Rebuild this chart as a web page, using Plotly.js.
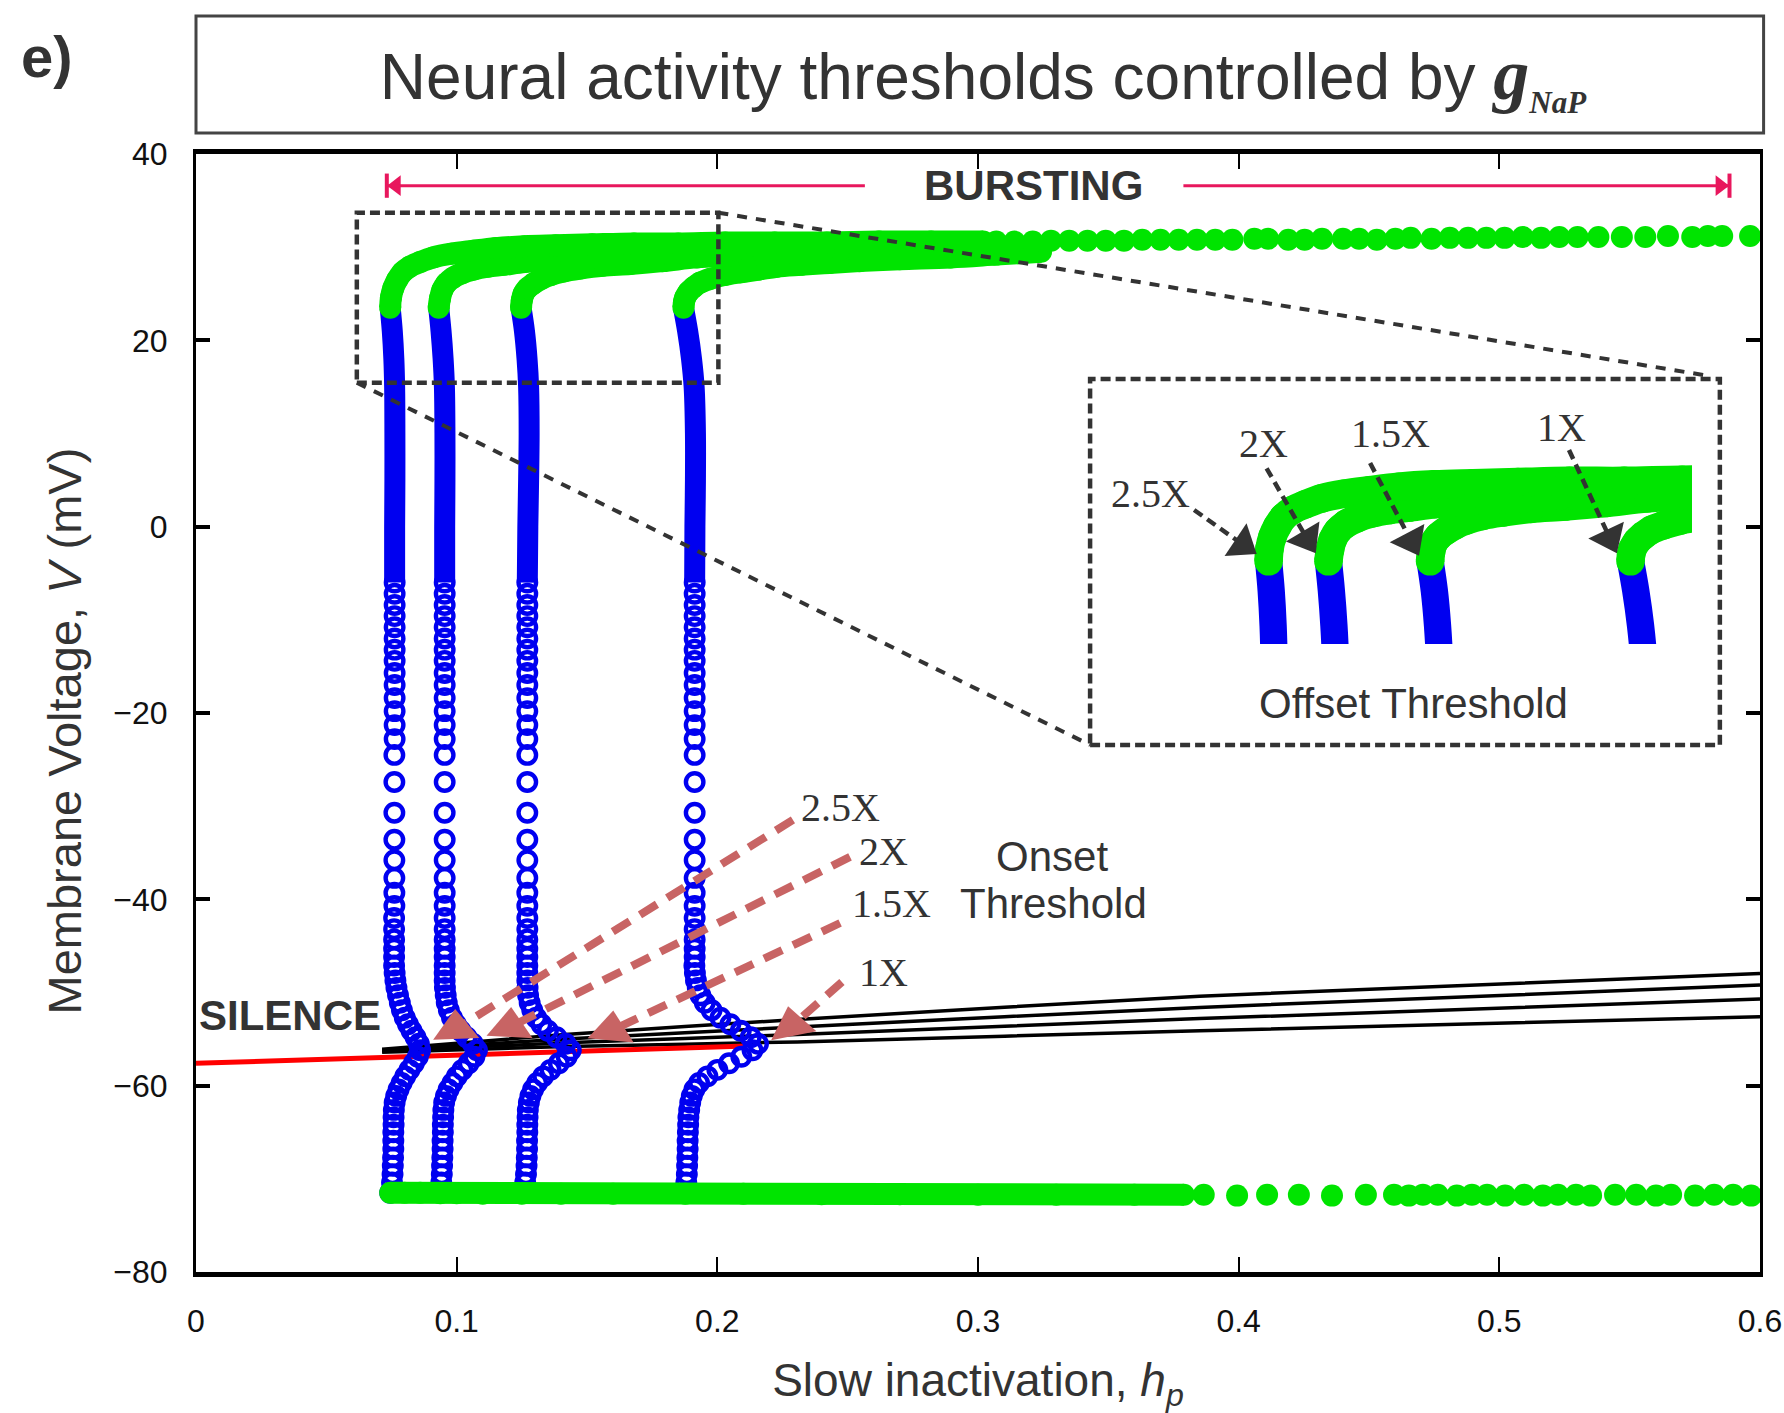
<!DOCTYPE html>
<html>
<head>
<meta charset="utf-8">
<script src="https://cdn.plot.ly/plotly-3.0.1.min.js"></script>
<style>html,body{margin:0;padding:0;background:#fff;}#chart{width:1784px;height:1413px;}</style>
</head>
<body>
<div id="chart"></div>
<script>
// ---------------- DATA ----------------
// Blue trajectory: dense upper segment (drawn as a solid band)
const bandV      = [23.5, 21, 18, 15, 10, 5, 0, -6];
const bandX_2p5  = [0.0745, 0.0753, 0.0759, 0.0762, 0.0763, 0.0763, 0.0762, 0.0762];
const bandX_2    = [0.0931, 0.0940, 0.0948, 0.0953, 0.0955, 0.0955, 0.0954, 0.0954];
const bandX_1p5  = [0.1247, 0.1260, 0.1270, 0.1276, 0.1278, 0.1276, 0.1273, 0.1271];
const bandX_1    = [0.1870, 0.1886, 0.1901, 0.1911, 0.1916, 0.1916, 0.1914, 0.1913];

// Blue trajectory: open-circle samples below the dense band
const ringV = [-6, -7.2, -8.4, -9.6, -10.8, -12, -13.2, -14.4, -15.7, -17, -18.4, -19.8, -21.3, -22.8, -24.5,
  -27.4, -30.7, -33.6, -35.8, -37.7, -39.3, -40.7, -42, -43.2, -44.3, -45.3, -46.2, -47.1, -47.9, -48.7,
  -49.5, -50.3, -51.1, -51.9, -52.7, -53.4, -54.1, -54.8, -55.5, -56.2, -56.9, -57.6, -58.3, -59, -59.7,
  -60.4, -61.1, -61.8, -62.6, -63.4, -64.2, -65, -65.9, -66.8, -67.7, -68.6, -69.5, -70.4, -71.5];
const ringX_2p5 = [0.0762, 0.0762, 0.0762, 0.0762, 0.0762, 0.0762, 0.0762, 0.0762, 0.0762, 0.0762, 0.0762, 0.0762, 0.0762, 0.0762,
  0.0761, 0.0761, 0.0761, 0.0761, 0.0761, 0.0761, 0.0761, 0.0761,
  0.0760, 0.0760, 0.0760, 0.0760, 0.0760, 0.0760,
  0.0762, 0.0765, 0.0769, 0.0775, 0.0782, 0.0790, 0.0801, 0.0813, 0.0827, 0.0842, 0.0855, 0.0860, 0.0851, 0.0836, 0.0819,
  0.0803, 0.0789, 0.0777, 0.0768, 0.0762, 0.0759, 0.0758, 0.0758, 0.0757, 0.0757, 0.0757, 0.0756, 0.0755, 0.0754, 0.0752, 0.0745];
const ringX_2 = [0.0954, 0.0954, 0.0954, 0.0954, 0.0954, 0.0954, 0.0954, 0.0954, 0.0954, 0.0954,
  0.0954, 0.0954, 0.0954, 0.0954, 0.0954, 0.0954, 0.0954, 0.0954, 0.0954, 0.0954,
  0.0954, 0.0954, 0.0954, 0.0954, 0.0954, 0.0954, 0.0954, 0.0954, 0.0954, 0.0954,
  0.0955, 0.0958, 0.0962, 0.0970, 0.0982, 0.0997, 0.1015, 0.1038, 0.1062, 0.1078, 0.1068, 0.1046, 0.1022, 0.1001, 0.0984,
  0.0969, 0.0959, 0.0952, 0.0949, 0.0948, 0.0947, 0.0947, 0.0946, 0.0946, 0.0945, 0.0944, 0.0943, 0.0941, 0.0937];
const ringX_1p5 = [0.1271, 0.1271, 0.1271, 0.1271, 0.1271, 0.1271, 0.1271, 0.1271, 0.1271, 0.1271,
  0.1271, 0.1271, 0.1271, 0.1271, 0.1271, 0.1271, 0.1271, 0.1271, 0.1271, 0.1271,
  0.1271, 0.1271, 0.1271, 0.1271, 0.1271, 0.1271, 0.1271, 0.1271, 0.1271, 0.1271,
  0.1272, 0.1274, 0.1280, 0.1290, 0.1305, 0.1325, 0.1350, 0.1383, 0.1418, 0.1438, 0.1422, 0.1392, 0.1360, 0.1332, 0.1309,
  0.1293, 0.1283, 0.1277, 0.1273, 0.1272, 0.1271, 0.1271, 0.1270, 0.1270, 0.1269, 0.1268, 0.1266, 0.1263, 0.1250];
const ringX_1 = [0.1913, 0.1913, 0.1913, 0.1913, 0.1913, 0.1913, 0.1913, 0.1913, 0.1913, 0.1913,
  0.1913, 0.1913, 0.1913, 0.1913, 0.1913, 0.1913, 0.1913, 0.1913, 0.1913, 0.1913,
  0.1913, 0.1913, 0.1913, 0.1913, 0.1913, 0.1913, 0.1913,
  0.1912, 0.1914, 0.1918, 0.1925, 0.1935, 0.1952, 0.1978, 0.2012, 0.2050, 0.2090, 0.2128, 0.2156, 0.2135, 0.2092, 0.2045, 0.2000,
  0.1962, 0.1930, 0.1912, 0.1902, 0.1896, 0.1892, 0.1889, 0.1888, 0.1887, 0.1886, 0.1886, 0.1885, 0.1884, 0.1883, 0.1881, 0.1877];

// Green (bursting) upper branches
const topX_2p5 = [0.0745, 0.0748, 0.0757, 0.0772, 0.0792, 0.0820, 0.0860, 0.0910, 0.0980, 0.1060, 0.1150, 0.1260, 0.1380, 0.1520, 0.1680, 0.1850, 0.2030, 0.2220, 0.2420, 0.2620, 0.2820, 0.3020];
const topV_2p5 = [23.5, 24.6, 25.6, 26.5, 27.3, 27.9, 28.4, 28.9, 29.3, 29.6, 29.9, 30.1, 30.2, 30.3, 30.4, 30.4, 30.5, 30.5, 30.5, 30.6, 30.6, 30.6];
const topX_2 = [0.0931, 0.0936, 0.0945, 0.0960, 0.0985, 0.1020, 0.1065, 0.1120, 0.1180, 0.1260, 0.1346, 0.1440, 0.1538, 0.1650, 0.1780, 0.1920, 0.2070];
const topV_2 = [23.5, 24.5, 25.4, 26.1, 26.7, 27.2, 27.6, 27.9, 28.1, 28.4, 28.6, 28.8, 28.9, 29.1, 29.3, 29.5, 29.7];
const topX_1p5 = [0.1247, 0.1250, 0.1257, 0.1272, 0.1295, 0.1325, 0.1359, 0.1410, 0.1474, 0.1560, 0.1666, 0.1790, 0.1922, 0.2050, 0.2177, 0.2320, 0.2470];
const topV_1p5 = [23.5, 24.3, 25.0, 25.6, 26.1, 26.6, 27.0, 27.4, 27.7, 28.0, 28.2, 28.5, 28.9, 29.1, 29.3, 29.5, 29.7];
const topX_1 = [0.1870, 0.1872, 0.1877, 0.1890, 0.1909, 0.1935, 0.1973, 0.2025, 0.2088, 0.2160, 0.2228, 0.2320, 0.2430, 0.2546, 0.2700, 0.2895, 0.3070, 0.3242];
const topV_1 = [23.5, 24.1, 24.6, 25.2, 25.7, 26.2, 26.6, 27.0, 27.3, 27.6, 27.9, 28.1, 28.3, 28.5, 28.7, 28.9, 29.2, 29.5];
const upperTailX = [0.3070, 0.3140, 0.3210, 0.3280, 0.3350, 0.3420, 0.3490, 0.3560, 0.3630, 0.3700, 0.3770, 0.3840, 0.3910, 0.3976,
  0.4060, 0.4113, 0.4190, 0.4253, 0.4320, 0.4400, 0.4462, 0.4530, 0.4601, 0.4660, 0.4740, 0.4810, 0.4880, 0.4950, 0.5020, 0.5090, 0.5160, 0.5230, 0.5300,
  0.5380, 0.5470, 0.5560, 0.5647, 0.5740, 0.5800, 0.5855, 0.5962];
const upperTailV = [30.6, 30.6, 30.6, 30.7, 30.7, 30.7, 30.7, 30.7, 30.8, 30.8, 30.8, 30.8, 30.8, 30.8,
  30.9, 30.9, 30.8, 30.8, 30.9, 30.9, 30.9, 30.8, 30.9, 31.0, 30.9, 31.0, 31.0, 31.0, 31.0, 31.1, 31.0, 31.1, 31.1,
  31.1, 31.1, 31.1, 31.2, 31.1, 31.2, 31.2, 31.2];

// Green lower branch
const bottomBandX = [0.0745, 0.0800, 0.0860, 0.0937, 0.1000, 0.1100, 0.1250, 0.1400, 0.1600, 0.1877, 0.2100, 0.2400, 0.2700, 0.3000, 0.3300, 0.3600, 0.3790];
const bottomBandV = [-71.5, -71.5, -71.5, -71.55, -71.55, -71.6, -71.6, -71.6, -71.6, -71.6, -71.6, -71.65, -71.65, -71.7, -71.7, -71.7, -71.7];
const bottomTailX = [0.3866, 0.3994, 0.4109, 0.4231, 0.4358, 0.4488, 0.4596, 0.4653, 0.4707, 0.4764, 0.4837, 0.4895, 0.4953, 0.5022,
  0.5095, 0.5167, 0.5225, 0.5294, 0.5352, 0.5444, 0.5525, 0.5601, 0.5659, 0.5751, 0.5824, 0.5897, 0.5966];
const bottomTailV = [-71.7, -71.8, -71.7, -71.7, -71.8, -71.7, -71.7, -71.8, -71.7, -71.7, -71.8, -71.7, -71.7, -71.8,
  -71.7, -71.8, -71.7, -71.7, -71.8, -71.7, -71.7, -71.8, -71.7, -71.8, -71.7, -71.7, -71.8];

// Onset-threshold curves (black) and silent branch (red)
const thresholdHp = [0.0714, 0.1416, 0.2306, 0.385, 0.6];
const thresholdV_a = [-56.1, -54.5, -52.9, -50.4, -47.95];
const thresholdV_b = [-56.2, -55.0, -53.7, -51.6, -49.2];
const thresholdV_c = [-56.3, -55.4, -54.5, -52.8, -50.7];
const thresholdV_d = [-56.4, -55.8, -55.3, -54.1, -52.6];
const silenceHp = [0, 0.1057, 0.2114];
const silenceV  = [-57.6, -56.67, -55.74];

const xTicks = [0, 0.1, 0.2, 0.3, 0.4, 0.5, 0.6];
const yTicks = [-80, -60, -40, -20, 0, 20, 40];

// ---------------- ANNOTATION GEOMETRY (data units) ----------------
const onsetLabels = ['2.5X', '2X', '1.5X', '1X'];
const onsetArrowStart = [[0.2290, -31.48], [0.2509, -35.45], [0.2471, -42.54], [0.2478, -48.87]];
const onsetArrowEnd   = [[0.0997, -53.91], [0.1205, -53.70], [0.1594, -54.07], [0.2286, -53.59]];
const onsetHeadAngle  = [-2, 3, 5, -11];
const onsetLabelPos   = [[0.2474, -30.1], [0.2636, -34.9], [0.2670, -40.5], [0.2636, -47.8]];
const offsetArrowStart = [[0.3829, 1.79], [0.4107, 6.27], [0.4504, 6.83], [0.5267, 8.23]];
const offsetArrowEnd   = [[0.4015, -1.9], [0.4262, -1.3], [0.4661, -1.5], [0.5423, -1.2]];
const offsetHeadAngle  = [34, 59, 62, 65];
const offsetLabelPos   = [[0.3660, 3.51], [0.4097, 8.98], [0.4581, 9.95], [0.5240, 10.6]];

// ---------------- STYLES ----------------
const BLUE = '#0000f0', GREEN = '#00e400', ROSE = '#c86464', PINK = '#e8175d', DARK = '#333333';
const FONT = 'Liberation Sans, Arial, sans-serif';
const SERIF = 'Liberation Serif, Times New Roman, serif';

const traces = [];
// threshold curves
[thresholdV_a, thresholdV_b, thresholdV_c, thresholdV_d].forEach(v => traces.push({
  type: 'scatter', mode: 'lines', x: thresholdHp, y: v, line: {color: '#000', width: 3.5, shape: 'spline', smoothing: 0.6}
}));
traces.push({type: 'scatter', mode: 'lines', x: silenceHp, y: silenceV, line: {color: '#ff0000', width: 5}});

function addCurves(xa, ya, k) {
  const bands = [bandX_2p5, bandX_2, bandX_1p5, bandX_1];
  const rings = [ringX_2p5, ringX_2, ringX_1p5, ringX_1];
  const tops = [[topX_2p5, topV_2p5], [topX_2, topV_2], [topX_1p5, topV_1p5], [topX_1, topV_1]];
  for (let i = 0; i < 4; i++) {
    traces.push({type: 'scatter', mode: 'lines', x: bands[i], y: bandV, xaxis: xa, yaxis: ya,
      line: {color: BLUE, width: 21 * k, shape: 'spline'}});
    if (k === 1) traces.push({type: 'scatter', mode: 'markers', x: rings[i], y: ringV, xaxis: xa, yaxis: ya,
      marker: {symbol: 'circle-open', size: 17.5, color: BLUE, line: {width: 4.4, color: BLUE}}});
  }
  for (let i = 3; i >= 0; i--) {
    traces.push({type: 'scatter', mode: 'lines+markers', x: tops[i][0], y: tops[i][1], xaxis: xa, yaxis: ya,
      line: {color: GREEN, width: 22 * k, shape: 'spline'}, marker: {size: 22 * k, color: GREEN}});
  }
  if (k === 1) {
    traces.push({type: 'scatter', mode: 'markers', x: upperTailX, y: upperTailV, marker: {size: 22, color: GREEN}});
    traces.push({type: 'scatter', mode: 'lines+markers', x: bottomBandX, y: bottomBandV,
      line: {color: GREEN, width: 22}, marker: {size: 22, color: GREEN}});
    traces.push({type: 'scatter', mode: 'markers', x: bottomTailX, y: bottomTailV, marker: {size: 22, color: GREEN}});
  }
}
addCurves('x', 'y', 1);
addCurves('x2', 'y2', 1.3);

// onset arrows (dashed) + heads, on the main axes
for (let i = 0; i < 4; i++) {
  traces.push({type: 'scatter', mode: 'lines', x: [onsetArrowStart[i][0], onsetArrowEnd[i][0]], y: [onsetArrowStart[i][1], onsetArrowEnd[i][1]],
    line: {color: ROSE, width: 8, dash: '20px,12px'}});
}
traces.push({type: 'scatter', mode: 'markers', x: onsetArrowEnd.map(p => p[0]), y: onsetArrowEnd.map(p => p[1]),
  marker: {symbol: 'triangle-up', size: 40, color: ROSE, angle: onsetHeadAngle}});
// bursting arrow heads
traces.push({type: 'scatter', mode: 'markers', x: [0.0768, 0.5847], y: [36.6, 36.6],
  marker: {symbol: ['triangle-left', 'triangle-right'], size: 18, color: PINK}});
// offset arrows drawn on the inset axes (converted from main-axis units so they sit above the inset)
const inX = v => 0.0221 + ((196 + v * 2606.7) - 1100) / 3217;
const inY = v => 16.4 + (644 - (154 + (40 - v) * 9.317)) / 11.65;
for (let i = 0; i < 4; i++) {
  traces.push({type: 'scatter', mode: 'lines', xaxis: 'x2', yaxis: 'y2',
    x: [inX(offsetArrowStart[i][0]), inX(offsetArrowEnd[i][0])], y: [inY(offsetArrowStart[i][1]), inY(offsetArrowEnd[i][1])],
    line: {color: DARK, width: 4.5, dash: '10px,6px'}});
}
traces.push({type: 'scatter', mode: 'markers', xaxis: 'x2', yaxis: 'y2', cliponaxis: false,
  x: offsetArrowEnd.map(p => inX(p[0])), y: offsetArrowEnd.map(p => inY(p[1])),
  marker: {symbol: 'triangle-right', size: 34, color: DARK, angle: offsetHeadAngle}});

traces.forEach(t => { t.hoverinfo = 'skip'; t.showlegend = false; });

const annotations = [
  {xref: 'paper', yref: 'paper', x: -0.0955, y: 1.0868, xanchor: 'center', yanchor: 'middle', text: '<b>e)</b>', showarrow: false, font: {family: FONT, size: 58, color: '#333'}},
  {xref: 'paper', yref: 'paper', x: -0.0838, y: 0.4843, xanchor: 'center', yanchor: 'middle', textangle: -90,
    text: 'Membrane Voltage, <i>V</i> (mV)', showarrow: false, font: {family: FONT, size: 47, color: '#333'}},
  {x: 0.3211, y: 36.6, text: '<b>BURSTING</b>', showarrow: false, font: {family: FONT, size: 42, color: '#333'}},
  {x: 0.0361, y: -52.5, text: '<b>SILENCE</b>', showarrow: false, font: {family: FONT, size: 42, color: '#333'}},
  {x: 0.3284, y: -35.45, text: 'Onset', showarrow: false, font: {family: FONT, size: 42, color: '#333'}},
  {x: 0.3291, y: -40.5, text: 'Threshold', showarrow: false, font: {family: FONT, size: 42, color: '#333'}},
  {x: 0.4669, y: -19.03, text: 'Offset Threshold', showarrow: false, font: {family: FONT, size: 42, color: '#333'}}
];
for (let i = 0; i < 4; i++) {
  annotations.push({x: onsetLabelPos[i][0], y: onsetLabelPos[i][1], text: onsetLabels[i], showarrow: false, font: {family: SERIF, size: 40, color: '#333'}});
  annotations.push({x: offsetLabelPos[i][0], y: offsetLabelPos[i][1], text: onsetLabels[i], showarrow: false, font: {family: SERIF, size: 40, color: '#333'}});
}

const shapes = [
  {type: 'rect', xref: 'paper', yref: 'paper', x0: 0, x1: 1.0023, y0: 1.0188, y1: 1.1234, line: {color: '#444', width: 3}},
  {type: 'rect', x0: 0.0617, x1: 0.2004, y0: 15.45, y1: 33.7, line: {color: DARK, width: 4.5, dash: '10px,5px'}},
  {type: 'rect', x0: 0.343, x1: 0.5846, y0: -23.43, y1: 15.85, line: {color: DARK, width: 4.5, dash: '10px,5px'}},
  {type: 'line', x0: 0.2004, y0: 33.7, x1: 0.58, y1: 16.2, line: {color: DARK, width: 4, dash: '10px,9px'}},
  {type: 'line', x0: 0.0617, y0: 15.45, x1: 0.343, y1: -23.43, line: {color: DARK, width: 4, dash: '10px,9px'}},
  {type: 'line', x0: 0.0732, y0: 36.6, x1: 0.2566, y1: 36.6, line: {color: PINK, width: 3}},
  {type: 'line', x0: 0.3788, y0: 36.6, x1: 0.5883, y1: 36.6, line: {color: PINK, width: 3}},
  {type: 'line', x0: 0.0732, y0: 35.3, x1: 0.0732, y1: 37.9, line: {color: PINK, width: 4}},
  {type: 'line', x0: 0.5883, y0: 35.3, x1: 0.5883, y1: 37.9, line: {color: PINK, width: 4}}
];

const gSpan = '<span style="font-family:Liberation Serif;font-weight:bold;font-style:italic;font-size:72px">g</span>';
const subSpan = '<sub><span style="font-family:Liberation Serif;font-weight:bold;font-style:italic;font-size:31px">NaP</span></sub>';

const layout = {
  width: 1784, height: 1413,
  margin: {l: 196, r: 24, t: 154, b: 141},
  paper_bgcolor: '#fff', plot_bgcolor: 'rgba(0,0,0,0)',
  showlegend: false, hovermode: false,
  font: {family: FONT, color: '#333'},
  title: {text: 'Neural activity thresholds controlled by ' + gSpan + subSpan,
    font: {family: FONT, size: 64, color: '#333'},
    xref: 'container', yref: 'container', x: 0.551, y: 0.9455, xanchor: 'center', yanchor: 'middle'},
  xaxis: {range: [0, 0.6], tickvals: xTicks, ticks: 'inside', ticklen: 15, tickwidth: 2, tickcolor: '#000',
    showline: true, linewidth: 5, linecolor: '#000', mirror: 'ticks', showgrid: false, zeroline: false,
    tickfont: {family: FONT, size: 32, color: '#111'}, ticklabelstandoff: 17,
    title: {text: 'Slow inactivation, <i>h</i><sub><i>p</i></sub>', font: {family: FONT, size: 46, color: '#333'}, standoff: 30}},
  yaxis: {range: [-80, 40], tickvals: yTicks, ticks: 'inside', ticklen: 14, tickwidth: 4, tickcolor: '#000',
    showline: true, linewidth: 3, linecolor: '#000', mirror: 'ticks', showgrid: false, zeroline: false,
    tickfont: {family: FONT, size: 32, color: '#111'}, ticklabelstandoff: 19},
  xaxis2: {domain: [(1100 - 196) / 1564, (1692 - 196) / 1564], range: [0.0221, 0.2061], anchor: 'y2', visible: false},
  yaxis2: {domain: [1 - (644 - 154) / 1118, 1 - (440 - 154) / 1118], range: [16.4, 33.91], anchor: 'x2', visible: false},
  annotations: annotations,
  shapes: shapes
};

Plotly.newPlot('chart', traces, layout, {staticPlot: true, displayModeBar: false});
</script>
</body>
</html>
